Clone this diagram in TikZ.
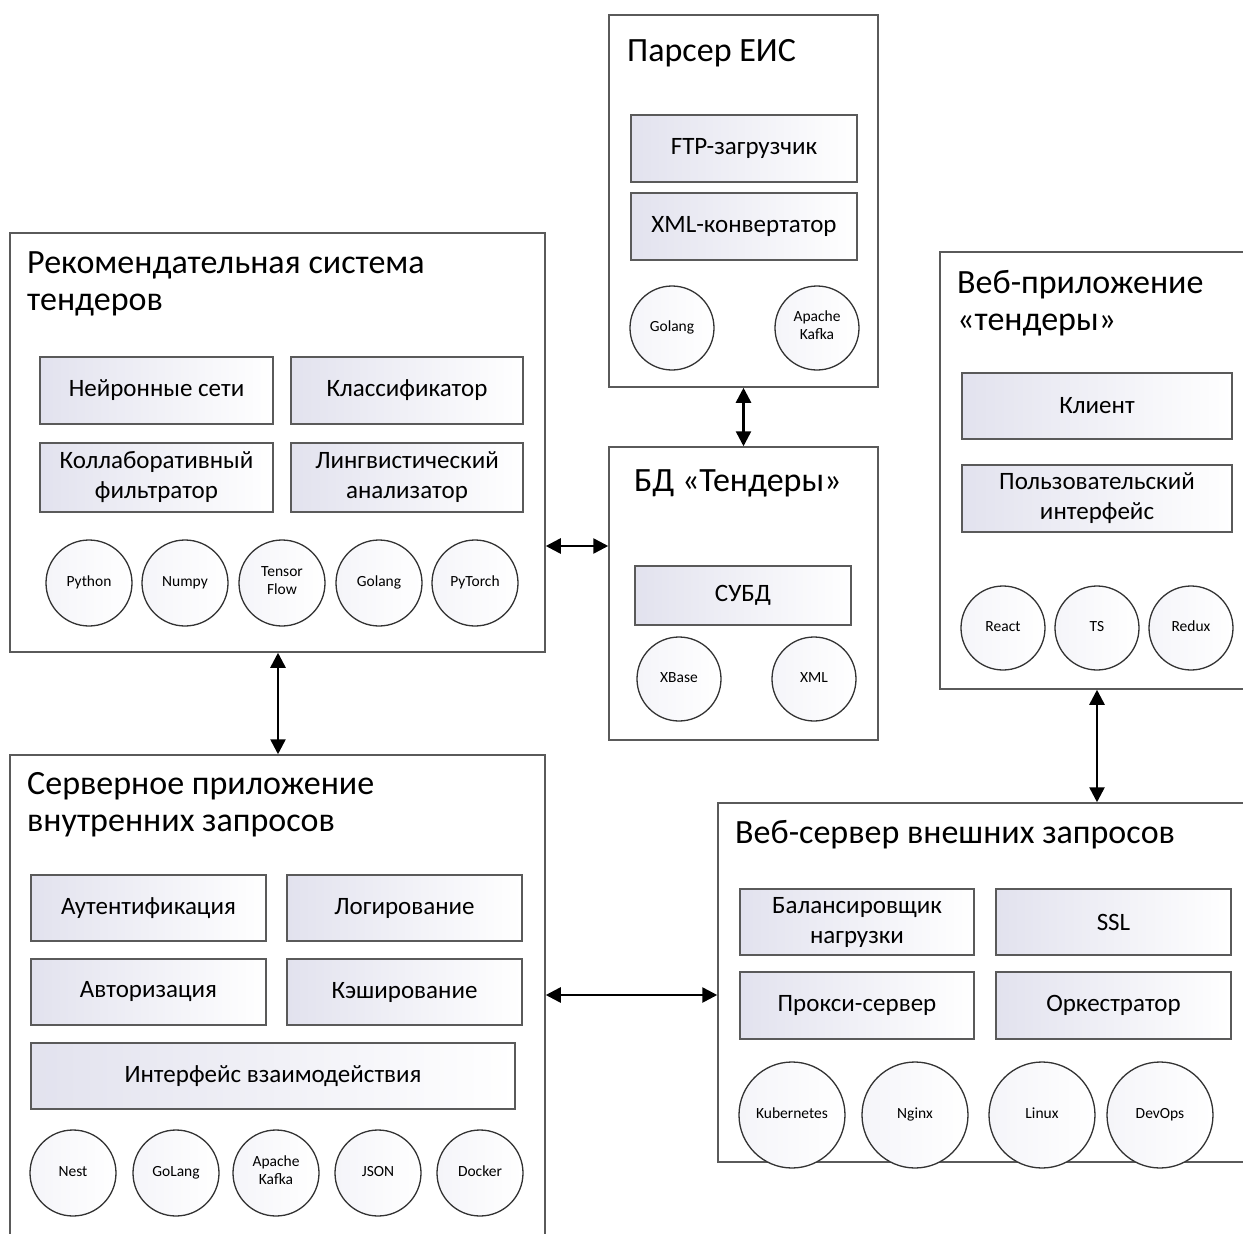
\documentclass[tikz,border=0pt]{standalone}
\usepackage{fontspec}
\setmainfont{Carlito}
\usetikzlibrary{arrows.meta,positioning,calc}
\definecolor{frame}{HTML}{5A5A5A}
\definecolor{lav}{HTML}{E2E2EE}
\tikzset{
	block/.style={draw=frame, line width=1.5pt, fill=white, inner sep=0pt},
	header/.style={anchor=base west, align=left, inner sep=0pt, font=\fontsize{34}{37}\selectfont},
	part/.style={draw=frame, line width=1.4pt, left color=lav, right color=white, inner sep=0pt, align=center, font=\fontsize{25}{30}\selectfont},
	tech/.style={circle, draw=black!80, line width=1.3pt, left color=lav!35, right color=white, minimum size=84pt, inner sep=0pt, align=center, font=\fontsize{15.5}{18}\selectfont, execute at begin node=\strut, execute at end node=\strut},
	link/.style={{Triangle[length=15pt,width=15pt]}-{Triangle[length=15pt,width=15pt]}, line width=2.6pt},
}
\begin{document}
\begin{tikzpicture}[x=1pt,y=-1pt]
	\useasboundingbox (0,0) rectangle (1243,1234);
	% Parser
	\node[block, minimum width=269pt, minimum height=372pt] (parser) at (743.5,201) {};
	\node[header] (parsertitle) at (627,61) {Парсер ЕИС};
	\node[part, minimum width=226pt, minimum height=67pt] (ftp) at (744,148.5) {FTP-загрузчик};
	\node[part, minimum width=226pt, minimum height=67pt] (xmlconv) at (744,226.5) {XML-конвертатор};
	\node[tech] (pgo) at (672,328) {Golang};
	\node[tech] (pkafka) at (817,328) {Apache\\Kafka};
	% DB
	\node[block, minimum width=269pt, minimum height=293pt] (db) at (743.5,593.5) {};
	\node[header] (dbtitle) at (634,491) {БД «Тендеры»};
	\node[part, minimum width=216pt, minimum height=59pt] (dbms) at (743,595.5) {СУБД};
	\node[tech] (dxbase) at (679,679) {XBase};
	\node[tech] (dxml) at (814,679) {XML};
	% Recommender
	\node[block, minimum width=535pt, minimum height=419pt] (recsys) at (277.5,442.5) {};
	\node[header] (rectitle) at (27,310) {Рекомендательная система\\тендеров};
	\node[part, minimum width=233pt, minimum height=67pt] (neural) at (156.5,390.5) {Нейронные сети};
	\node[part, minimum width=232pt, minimum height=67pt] (classif) at (407,390.5) {Классификатор};
	\node[part, minimum width=233pt, minimum height=69pt] (collab) at (156.5,477.5) {Коллаборативный\\фильтратор};
	\node[part, minimum width=232pt, minimum height=69pt] (ling) at (407,477.5) {Лингвистический\\анализатор};
	\foreach \t/\x [count=\i] in {Python/89, Numpy/185, {Tensor\\Flow}/282, Golang/379, PyTorch/475}
		\node[tech, minimum size=86pt] (rt\i) at (\x,583) {\t};
	% Web application
	\node[block, minimum width=312pt, minimum height=437pt] (webapp) at (1096,470.5) {};
	\node[header] (apptitle) at (957,330) {Веб-приложение\\«тендеры»};
	\node[part, minimum width=270pt, minimum height=66pt] (client) at (1097,406) {Клиент};
	\node[part, minimum width=270pt, minimum height=67pt] (ui) at (1097,498.5) {Пользовательский\\интерфейс};
	\node[tech] (wreact) at (1003,628) {React};
	\node[tech] (wts) at (1097,628) {TS};
	\node[tech] (wredux) at (1191,628) {Redux};
	% Internal server
	\node[block, minimum width=535pt, minimum height=495pt] (srv) at (277.5,1002.5) {};
	\node[header] (srvtitle) at (27,831) {Серверное приложение\\внутренних запросов};
	\node[part, minimum width=235pt, minimum height=66pt] (authn) at (148.5,908) {Аутентификация};
	\node[part, minimum width=235pt, minimum height=66pt] (logging) at (404.5,908) {Логирование};
	\node[part, minimum width=235pt, minimum height=66pt] (authz) at (148.5,992) {Авторизация};
	\node[part, minimum width=235pt, minimum height=66pt] (cache) at (404.5,992) {Кэширование};
	\node[part, minimum width=484pt, minimum height=66pt] (iface) at (273,1076) {Интерфейс взаимодействия};
	\foreach \t/\x [count=\i] in {Nest/73, GoLang/176, {Apache\\Kafka}/276, JSON/378, Docker/480}
		\node[tech, minimum size=86pt] (st\i) at (\x,1173) {\t};
	% External web server
	\node[block, minimum width=540pt, minimum height=359pt] (websrv) at (988,982.5) {};
	\node[header] (webtitle) at (735,843) {Веб-сервер внешних запросов};
	\node[part, minimum width=234pt, minimum height=66pt] (balance) at (857,922) {Балансировщик\\нагрузки};
	\node[part, minimum width=235pt, minimum height=66pt] (ssl) at (1113.5,922) {SSL};
	\node[part, minimum width=234pt, minimum height=67pt] (proxy) at (857,1005.5) {Прокси-сервер};
	\node[part, minimum width=235pt, minimum height=67pt] (orch) at (1113.5,1005.5) {Оркестратор};
	\foreach \t/\x [count=\i] in {Kubernetes/792, Nginx/915, Linux/1042, DevOps/1160}
		\node[tech, minimum size=106pt] (wt\i) at (\x,1115) {\t};
	% Links
	\draw[link] (parser.south) -- (db.north);
	\draw[link] (recsys.east |- 0,546) -- (db.west |- 0,546);
	\draw[link] (recsys.south -| 278,0) -- (srv.north -| 278,0);
	\draw[link] (srv.east |- 0,995) -- (websrv.west |- 0,995);
	\draw[link] (webapp.south -| 1097,0) -- (websrv.north -| 1097,0);
\end{tikzpicture}
\end{document}
